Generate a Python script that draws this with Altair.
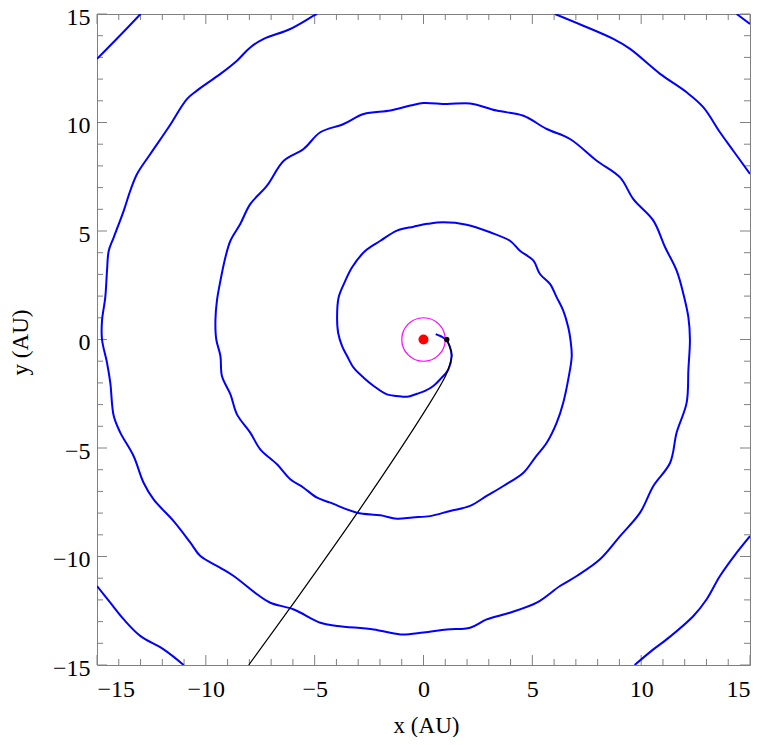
import altair as alt
import pandas as pd

# ---- data (AU) ----
# main spiral arm, from the inner start to where it leaves the top edge
ARM_X = [0.56, 0.8, 1.0, 1.2, 1.29, 1.14, 0.76, 0.45, 0.07, -0.3, -0.76, -1.22, -1.68, -2.29, -2.75, -3.21,
         -3.51, -3.74, -3.92, -3.97, -3.9, -3.59, -3.28, -2.67, -1.98, -1.22, -0.45, 0.2, 0.91, 1.98, 3.06,
         3.97, 4.43, 5.05, 5.35, 5.81, 6.12, 6.42, 6.65, 6.75, 6.81, 6.65, 6.42, 6.12, 5.66, 5.12, 4.59, 3.67,
         2.9, 2.14, 1.22, 0.3, -0.5, -1.22, -1.98, -3.06, -4.28, -4.89, -5.51, -6.12, -6.73, -7.5, -7.96,
         -8.57, -8.87, -9.26, -9.33, -9.52, -9.56, -9.49, -9.33, -9.1, -8.87, -8.42, -7.96, -7.19, -6.42,
         -5.51, -4.74, -3.67, -2.75, -1.52, -0.6, 0.0, 1.07, 2.14, 3.36, 4.59, 5.66, 6.73, 7.96, 9.03, 9.64,
         10.56, 11.1, 11.63, 11.94, 12.17, 12.24, 12.17, 12.09, 11.63, 11.33, 10.56, 9.95, 9.03, 8.11, 7.04,
         6.27, 5.2, 3.97, 2.9, 2.14, 1.07, 0.0, -1.06, -2.29, -3.97, -4.74, -5.96, -7.04, -7.65, -8.72, -9.33,
         -10.25, -10.71, -11.48, -12.4, -12.86, -13.32, -13.93, -14.23, -14.39, -14.54, -14.77, -14.77,
         -14.62, -14.54, -14.46, -14.23, -13.77, -13.47, -13.16, -12.55, -11.71, -10.87, -10.41, -9.33,
         -8.57, -7.96, -7.34, -6.12, -5.05, -4.9]
ARM_Y = [0.25, 0.15, 0.02, -0.3, -0.76, -1.38, -1.84, -2.14, -2.37, -2.5, -2.64, -2.6, -2.53, -2.14, -1.76,
         -1.3, -0.76, -0.3, 0.3, 1.02, 1.94, 2.71, 3.33, 4.09, 4.55, 5.02, 5.2, 5.33, 5.4, 5.29, 4.94, 4.55,
         4.09, 3.63, 3.02, 2.56, 1.94, 1.33, 0.56, 0.0, -0.76, -1.84, -2.91, -3.83, -4.76, -5.45, -6.14,
         -6.75, -7.21, -7.67, -7.9, -8.14, -8.2, -8.26, -8.1, -7.98, -7.52, -7.29, -6.83, -6.44, -5.75, -5.06,
         -4.29, -3.45, -2.53, -1.68, -0.76, 0.0, 0.87, 1.79, 2.71, 3.79, 4.55, 5.32, 6.24, 7.09, 8.24, 8.78,
         9.55, 9.93, 10.39, 10.55, 10.78, 10.9, 10.85, 10.88, 10.55, 10.31, 9.7, 9.24, 8.24, 7.47, 6.47, 5.48,
         4.25, 3.17, 2.1, 1.02, 0.0, -1.38, -2.91, -4.29, -5.68, -6.75, -7.98, -9.06, -10.13, -10.9, -11.36,
         -12.13, -12.59, -12.9, -13.28, -13.36, -13.5, -13.59, -13.36, -13.2, -13.05, -12.44, -12.13, -11.74,
         -10.9, -10.52, -9.98, -9.36, -8.37, -7.37, -6.6, -5.37, -4.29, -3.53, -1.99, -1.07, 0.0, 0.87, 1.94,
         3.17, 4.09, 4.71, 5.94, 6.86, 7.63, 8.55, 9.78, 11.08, 11.47, 12.24, 12.85, 13.46, 13.85, 14.31,
         14.92, 15.0]
# outer pieces of the arm that cross the plot frame
TOPRIGHT_ARC_X = [6.04, 7.34, 8.72, 9.49, 10.87, 12.09, 12.86, 13.62, 14.23, 15.0]
TOPRIGHT_ARC_Y = [15.0, 14.46, 13.85, 13.39, 12.24, 11.39, 10.7, 9.55, 8.7, 7.63]
BOTRIGHT_ARC_X = [15.0, 14.39, 13.62, 13.01, 12.4, 11.17, 10.56, 9.7]
BOTRIGHT_ARC_Y = [-9.06, -9.82, -10.9, -11.97, -12.74, -13.82, -14.28, -15.0]
BOTLEFT_ARC_X = [-11.02, -11.94, -13.0, -13.77, -14.39, -15.0]
BOTLEFT_ARC_Y = [-15.0, -14.28, -13.67, -12.9, -12.13, -11.36]
TOPLEFT_ARC_X = [-15.0, -14.0, -13.0]
TOPLEFT_ARC_Y = [12.93, 13.95, 15.0]
CORNER_ARC_X = [14.39, 15.0]
CORNER_ARC_Y = [15.0, 14.54]

# black trajectory
TRAJ_X = [1.07, 1.3, 1.25, 1.05, 0.16, -2.98, -6.12, -8.03]
TRAJ_Y = [0.02, -0.7, -1.0, -1.6, -3.14, -7.9, -12.36, -15.0]

# markers
SUN_X, SUN_Y = [0.0], [0.0]
ORBIT_X, ORBIT_Y = [0.0], [0.0]
START_X, START_Y = [1.07], [0.0]

MAJOR = [-15, -10, -5, 0, 5, 10, 15]
MINOR = [v for v in range(-14, 15) if v % 5 != 0]

# ---- build tables ----
segs = [("arm", ARM_X, ARM_Y), ("tr", TOPRIGHT_ARC_X, TOPRIGHT_ARC_Y), ("br", BOTRIGHT_ARC_X, BOTRIGHT_ARC_Y),
        ("bl", BOTLEFT_ARC_X, BOTLEFT_ARC_Y), ("tl", TOPLEFT_ARC_X, TOPLEFT_ARC_Y),
        ("c", CORNER_ARC_X, CORNER_ARC_Y)]
rows = []
for name, xs, ys in segs:
    for i, (a, b) in enumerate(zip(xs, ys)):
        rows.append({"seg": name, "i": i, "x": a, "y": b})
spiral = pd.DataFrame(rows)
traj = pd.DataFrame({"x": TRAJ_X, "y": TRAJ_Y, "i": list(range(len(TRAJ_X)))})

W, H = 653, 651
FONT = "Liberation Serif"
TICK = "#808080"

SC = alt.Scale(domain=[-15, 15], nice=False, zero=False)
AX_X = alt.Axis(title="x (AU)", values=MAJOR, labelPadding=12, titleX=329, titleY=67,
                titleBaseline="alphabetic", titleAlign="center")
AX_Y = alt.Axis(title="y (AU)", values=MAJOR, labelPadding=7, labelOffset=3, titleX=-70, titleY=328,
                titleAngle=270, titleBaseline="alphabetic", titleAlign="center")


def xe(f="x"):
    return alt.X(f, type="quantitative", scale=SC, axis=AX_X)


def ye(f="y"):
    return alt.Y(f, type="quantitative", scale=SC, axis=AX_Y)


def tick_layers(vals, length):
    d = pd.DataFrame({"x": vals, "y": vals})
    m = alt.Chart(d).mark_rule(color=TICK, strokeWidth=1)
    return [
        m.encode(x=xe(), y=alt.value(H), y2=alt.value(H - length)),
        m.encode(x=xe(), y=alt.value(0), y2=alt.value(length)),
        m.encode(y=ye(), x=alt.value(0), x2=alt.value(length)),
        m.encode(y=ye(), x=alt.value(W), x2=alt.value(W - length)),
    ]


spiral_layer = alt.Chart(spiral).mark_line(color="#0000ff", strokeWidth=2, interpolate="catmull-rom",
                                           clip=True).encode(
    x=xe(), y=ye(), detail="seg:N", order="i:Q")
traj_layer = alt.Chart(traj).mark_line(color="black", strokeWidth=1.2, interpolate="catmull-rom",
                                       clip=True).encode(x=xe(), y=ye(), order="i:Q")
orbit_layer = alt.Chart(pd.DataFrame({"x": ORBIT_X, "y": ORBIT_Y})).mark_point(
    shape="circle", filled=False, size=1890, color="#ff00ff", strokeWidth=1.2, opacity=1).encode(x=xe(), y=ye())
sun_layer = alt.Chart(pd.DataFrame({"x": SUN_X, "y": SUN_Y})).mark_circle(
    size=100, color="#ff0000", opacity=1).encode(x=xe(), y=ye())
start_layer = alt.Chart(pd.DataFrame({"x": START_X, "y": START_Y})).mark_circle(
    size=28, color="black", opacity=1).encode(x=xe(), y=ye())

layers = tick_layers(MINOR, 6) + tick_layers(MAJOR, 10) + [spiral_layer, traj_layer, orbit_layer, start_layer,
                                                           sun_layer]

chart = alt.layer(*layers).properties(
    width=W, height=H,
    autosize=alt.AutoSizeParams(type="none"),
    padding={"left": 89, "top": 6, "right": 5, "bottom": 72},
).configure_view(stroke=TICK, strokeWidth=1).configure_axis(
    labelFont=FONT, labelFontSize=24, labelColor="black",
    titleFont=FONT, titleFontSize=23, titleFontWeight="normal", titleColor="black",
    grid=False, domain=False, ticks=False, tickSize=0,
)

chart.save("out.html", embed_options={"renderer": "svg", "actions": False})
